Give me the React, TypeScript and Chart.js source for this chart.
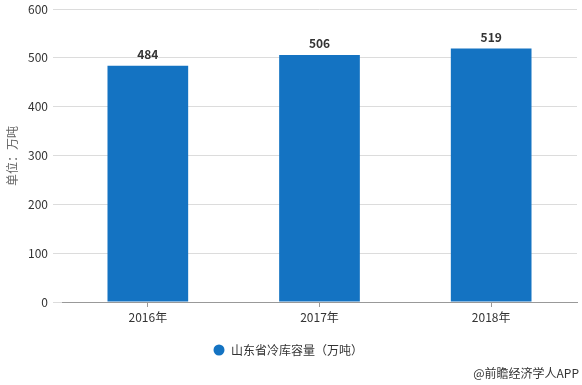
import React, { useEffect, useRef } from "react";
import { Chart, registerables } from "chart.js";

Chart.register(...registerables);

const categories = ["2016年", "2017年", "2018年"];
const values = [484, 506, 519];
const seriesName = "山东省冷库容量（万吨）";
const yTitle = "单位：万吨";
const sourceText = "@前瞻经济学人APP";
const yTicks = { min: 0, max: 600, step: 100 };

const FONT = '"Noto Sans CJK SC", "Noto Sans", sans-serif';
const BAR_COLOR = "#1473c2";

const extras = {
  id: "extras",
  afterDatasetsDraw(chart: any) {
    const ctx = chart.ctx;
    const meta = chart.getDatasetMeta(0);
    ctx.save();
    ctx.font = `bold 12px ${FONT}`;
    ctx.fillStyle = "#333";
    ctx.textAlign = "center";
    ctx.textBaseline = "middle";
    meta.data.forEach((el: any, i: number) => {
      ctx.fillText(String(values[i]), el.x, el.y - 11);
    });
    ctx.restore();
  },
  afterDraw(chart: any) {
    const ctx = chart.ctx;
    ctx.save();
    ctx.translate(12, 156);
    ctx.rotate(-Math.PI / 2);
    ctx.font = `12px ${FONT}`;
    ctx.fillStyle = "#666";
    ctx.textAlign = "center";
    ctx.textBaseline = "middle";
    ctx.fillText(yTitle, 0, 0);
    ctx.restore();

    ctx.save();
    ctx.fillStyle = BAR_COLOR;
    ctx.beginPath();
    ctx.arc(219, 350, 5.5, 0, Math.PI * 2);
    ctx.fill();
    ctx.font = `12px ${FONT}`;
    ctx.fillStyle = "#333";
    ctx.textAlign = "left";
    ctx.textBaseline = "middle";
    ctx.fillText(seriesName, 231, 350);
    ctx.textAlign = "right";
    ctx.fillText(sourceText, 579, 373);
    ctx.restore();
  },
};

export default function App() {
  const ref = useRef<HTMLCanvasElement | null>(null);
  useEffect(() => {
    document.body.style.margin = "0";
    const chart = new Chart(ref.current!, {
      type: "bar",
      data: {
        labels: categories,
        datasets: [
          {
            label: seriesName,
            data: values,
            backgroundColor: BAR_COLOR,
            barPercentage: 0.94,
            categoryPercentage: 0.5,
          },
        ],
      },
      options: {
        responsive: false,
        animation: false,
        layout: { padding: { top: 9, right: 5, bottom: 55, left: 0 } },
        plugins: { legend: { display: false }, tooltip: { enabled: false } },
        scales: {
          x: {
            grid: {
              display: true,
              drawOnChartArea: false,
              offset: false,
              tickLength: 5,
              color: "#999",
            },
            border: { color: "#999" },
            ticks: { color: "#333", font: { family: FONT, size: 12 }, padding: 3 },
            afterFit(s: any) {
              s.height = 28;
              s.paddingLeft = 0;
              s.paddingRight = 0;
            },
          },
          y: {
            min: yTicks.min,
            max: yTicks.max,
            grid: { color: "#dcdcdc", tickLength: 9 },
            border: { display: false },
            ticks: {
              stepSize: yTicks.step,
              color: "#333",
              font: { family: FONT, size: 12 },
              padding: 5,
            },
            afterFit(s: any) {
              s.width = 62;
              s.paddingTop = 0;
              s.paddingBottom = 0;
            },
          },
        },
      },
      plugins: [extras],
    });
    return () => chart.destroy();
  }, []);
  return (
    <div style={{ width: 582, height: 385 }}>
      <canvas ref={ref} width={582} height={385} />
    </div>
  );
}
